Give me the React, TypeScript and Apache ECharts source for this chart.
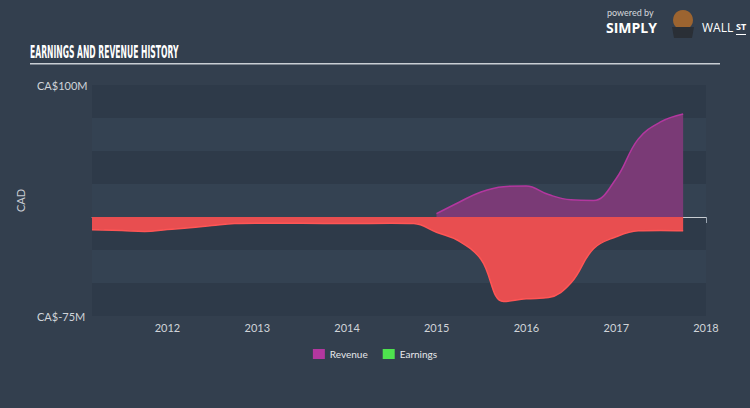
import React, { useEffect, useRef } from "react";
import * as echarts from "echarts";

const revenueDates = [
  "2014-12-31", "2015-03-31", "2015-06-30", "2015-09-30", "2015-12-31",
  "2016-03-31", "2016-06-30", "2016-09-30", "2016-12-31", "2017-03-31",
  "2017-06-30", "2017-09-30",
];
const revenueValues = [2.5, 11, 19, 23, 23.5, 17, 13, 12.5, 29, 59, 72, 78];

const earningsDates = [
  "2011-02-28", "2011-06-30", "2011-09-30", "2011-12-31", "2012-03-31",
  "2012-06-30", "2012-09-30", "2012-12-31", "2013-06-30", "2013-12-31",
  "2014-06-30", "2014-09-30", "2014-12-31", "2015-03-31", "2015-06-30",
  "2015-09-30", "2015-12-31", "2016-03-31", "2016-06-30", "2016-09-30",
  "2016-12-31", "2017-03-31", "2017-06-30", "2017-09-30",
];
const earningsValues = [
  -9.6, -10.3, -11, -9.4, -8.2, -6.5, -4.9, -4.7, -4.8, -5, -4.7, -5,
  -11.5, -18, -32, -64, -62, -61, -50, -24, -15, -10.5, -10.2, -10.5,
];

const yTicks = { min: -75, max: 100, interval: 25 };
const xRange = { min: "2011-02-28", max: "2018-01-01" };

export default function App() {
  const ref = useRef<HTMLDivElement>(null);
  useEffect(() => {
    if (!ref.current) return;
    const chart = echarts.init(ref.current, undefined, { renderer: "svg" });
    const rev = revenueDates.map((d, i) => [d, revenueValues[i]]);
    const earn = earningsDates.map((d, i) => [d, earningsValues[i]]);
    chart.setOption({
      animation: false,
      backgroundColor: "#333f4e",
      grid: { left: 92, right: 44, top: 85, bottom: 92 },
      xAxis: {
        type: "time",
        min: xRange.min,
        max: xRange.max,
        minInterval: 365 * 86400000,
        maxInterval: 366 * 86400000,
        axisLine: { show: true, lineStyle: { color: "#9aa5b1", width: 1 } },
        axisTick: { show: true, length: 6, lineStyle: { color: "#9aa5b1" } },
        axisLabel: {
          color: "#d0d4d9",
          fontSize: 11,
          fontFamily: "Lato",
          formatter: "{yyyy}",
          showMinLabel: false,
          showMaxLabel: true,
          margin: 6,
        },
        splitLine: { show: false },
      },
      yAxis: {
        type: "value",
        min: yTicks.min,
        max: yTicks.max,
        interval: yTicks.interval,
        name: "CAD",
        nameLocation: "middle",
        nameRotate: 90,
        nameGap: 50,
        nameTextStyle: { color: "#c8ccd2", fontSize: 11, fontFamily: "Lato" },
        axisLine: { show: false },
        axisTick: { show: false },
        axisLabel: {
          color: "#d0d4d9",
          fontSize: 11,
          fontFamily: "Lato",
          align: "left",
          margin: 55,
          formatter: (v: number) =>
            v === yTicks.max || v === yTicks.min ? `CA$${v}M` : "",
        },
        splitLine: { show: false },
        splitArea: {
          show: true,
          areaStyle: { color: ["#2e3a49", "#344252"] },
        },
      },
      legend: {
        bottom: 44,
        left: "center",
        itemWidth: 12,
        itemHeight: 10,
        itemGap: 15,
        icon: "rect",
        textStyle: { color: "#e6e8eb", fontSize: 10, fontFamily: "Lato" },
        data: [
          { name: "Revenue", itemStyle: { color: "#b3379f" } },
          { name: "Earnings", itemStyle: { color: "#4ee24e" } },
        ],
      },
      series: [
        {
          name: "Revenue",
          type: "line",
          data: rev,
          smooth: 0.4,
          showSymbol: false,
          z: 3,
          lineStyle: { color: "#b3379f", width: 1.5 },
          itemStyle: { color: "#b3379f" },
          areaStyle: { color: "#7a3a76", opacity: 1 },
          markLine: {
            silent: true,
            symbol: "none",
            label: { show: false },
            lineStyle: { color: "#c9cdd2", width: 1, type: "solid" },
            data: [{ yAxis: 0 }],
            z: 1,
          },
        },
        {
          name: "Earnings",
          type: "line",
          data: earn,
          smooth: 0.4,
          showSymbol: false,
          z: 4,
          lineStyle: { color: "#ff5555", width: 1.5 },
          itemStyle: { color: "#4ee24e" },
          areaStyle: { color: "#e84e50", opacity: 1 },
        },
      ],
      graphic: [
        {
          type: "text",
          x: 30,
          y: 44,
          scaleX: 0.5,
          style: {
            text: "EARNINGS AND REVENUE HISTORY",
            fill: "#ffffff",
            font: "bold 17px 'DejaVu Sans Condensed', 'Liberation Sans Narrow', sans-serif",
          },
        },
        {
          type: "rect",
          shape: { x: 30, y: 63, width: 690, height: 1.5 },
          style: { fill: "#c9ced4" },
        },
        {
          type: "text",
          left: 607,
          top: 8,
          style: { text: "powered by", fill: "#d6d9dd", font: "9px Lato" },
        },
        {
          type: "text",
          left: 606,
          top: 20,
          style: { text: "SIMPLY", fill: "#ffffff", font: "bold 14px 'Open Sans'" },
        },
        {
          type: "circle",
          shape: { cx: 683, cy: 20, r: 10 },
          style: { fill: "#9c6430" },
        },
        {
          type: "polygon",
          shape: { points: [[672, 27], [694, 27], [692, 38], [674, 38]] },
          style: { fill: "#2a2f36" },
        },
        {
          type: "text",
          left: 702,
          top: 21,
          style: { text: "WALL", fill: "#ffffff", font: "12px 'Open Sans'" },
        },
        {
          type: "text",
          left: 736,
          top: 22,
          style: { text: "ST", fill: "#ffffff", font: "bold 9px 'Open Sans'" },
        },
        {
          type: "rect",
          shape: { x: 736, y: 34, width: 10, height: 1 },
          style: { fill: "#ffffff" },
        },
      ],
    });
    return () => chart.dispose();
  }, []);
  return <div ref={ref} style={{ width: 750, height: 408, position: "absolute", left: 0, top: 0 }} />;
}
